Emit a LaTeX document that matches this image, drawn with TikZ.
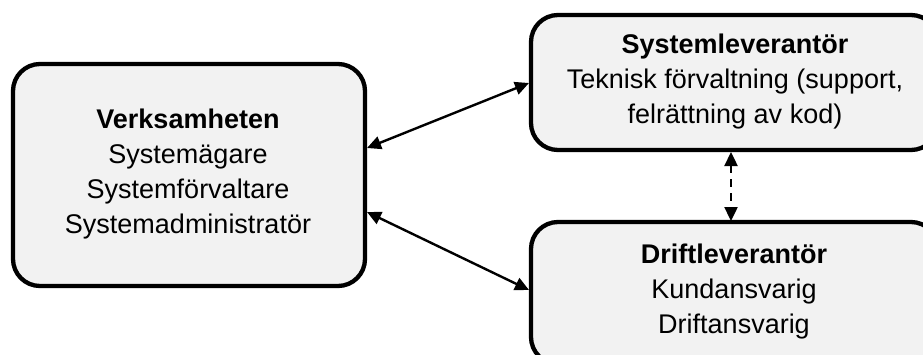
\documentclass[tikz,border=0pt]{standalone}
\usepackage{fontspec}
\setmainfont{Liberation Sans}
\usetikzlibrary{arrows.meta}
\tikzset{
  roll/.style={draw=black, line width=4.3pt, fill=boxgray, rounded corners=27pt},
  roletext/.style={align=center, font=\fontsize{27}{35}\selectfont},
  link/.style={line width=2.4pt, {Triangle[length=14pt,width=13pt]}-{Triangle[length=14pt,width=13pt]}},
}
\definecolor{boxgray}{HTML}{F2F2F2}
\begin{document}
\begin{tikzpicture}[x=1pt,y=-1pt]
  \useasboundingbox (0,0) rectangle (923,354);
  \clip (0,0) rectangle (923,354);
  % three role boxes
  \draw[roll] (13,64) rectangle (365,286);
  \draw[roll] (531,15) rectangle (938,150);
  \draw[roll] (531,222) rectangle (938,364);
  \node[roletext] (verk) at (188,174.5) {\textbf{Verksamheten}\\Systemägare\\Systemförvaltare\\Systemadministratör};
  \node[roletext] (sys) at (735,82) {\textbf{Systemleverantör}\\Teknisk förvaltning (support,\\felrättning av kod)};
  \node[roletext] (drift) at (734,292) {\textbf{Driftleverantör}\\Kundansvarig\\Driftansvarig};
  % connector end points on the box borders
  \coordinate (v1) at (367,148);
  \coordinate (v2) at (367,212);
  \coordinate (s1) at (529,83);
  \coordinate (d1) at (529,290);
  \coordinate (sb) at (731,152);
  \coordinate (dt) at (731,221);
  \draw[link] (v1) -- (s1);
  \draw[link] (v2) -- (d1);
  \draw[link, dash pattern=on 8pt off 6pt] (sb) -- (dt);
\end{tikzpicture}
\end{document}
